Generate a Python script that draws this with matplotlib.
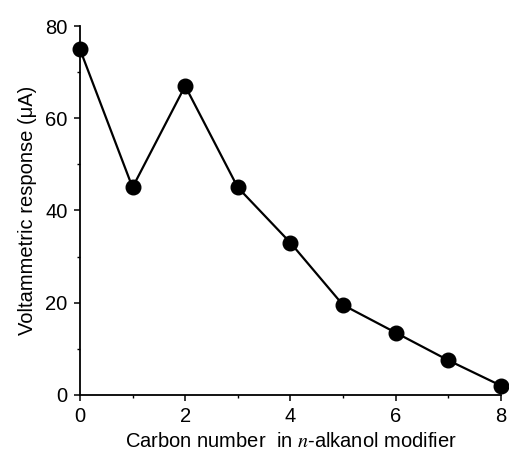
import matplotlib

matplotlib.use("Agg")
import matplotlib.pyplot as plt
from matplotlib.ticker import MultipleLocator

carbon_number = [0, 1, 2, 3, 4, 5, 6, 7, 8]
response_ua = [75, 45, 67, 45, 33, 19.5, 13.5, 7.5, 2]

plt.rcParams["font.family"] = ["Liberation Sans", "DejaVu Sans"]
plt.rcParams["mathtext.fontset"] = "stix"

fig = plt.figure(figsize=(5.09, 4.57), dpi=100)
ax = fig.add_axes([0.157, 0.136, 0.827, 0.807])

ax.plot(carbon_number, response_ua, "-o", color="black", linewidth=1.6,
        markersize=10.5, clip_on=False, zorder=3)

ax.set_xlim(0, 8)
ax.set_ylim(0, 80)
ax.xaxis.set_major_locator(MultipleLocator(2))
ax.xaxis.set_minor_locator(MultipleLocator(1))
ax.yaxis.set_major_locator(MultipleLocator(20))
ax.yaxis.set_minor_locator(MultipleLocator(10))

for side in ("top", "right"):
    ax.spines[side].set_visible(False)
for side in ("left", "bottom"):
    ax.spines[side].set_linewidth(1.3)

ax.tick_params(which="major", direction="out", length=4, width=1.1,
               labelsize=14.5, pad=5)
ax.tick_params(which="minor", direction="out", length=2.5, width=1.0)

ax.set_xlabel("Carbon number  in $n$-alkanol modifier", fontsize=14.5, labelpad=4)
ax.set_ylabel("Voltammetric response (\u03bcA)", fontsize=14.5, labelpad=6)

fig.savefig("out.png", dpi=100)
plt.close(fig)
